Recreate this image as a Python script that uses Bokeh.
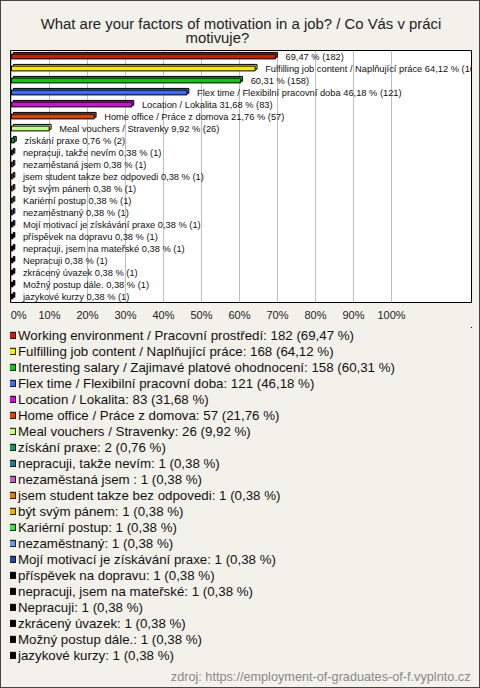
from bokeh.plotting import figure
from bokeh.layouts import column
from bokeh.models import (Range1d, FixedTicker, PrintfTickFormatter, Legend, LegendItem,
                          Label, ColumnDataSource)
from bokeh.core.properties import value
from bokeh.embed import file_html
from bokeh.resources import INLINE

FONT = "Liberation Sans"
BG = "#f3f2ea"

categories = [
    "Working environment / Pracovní prostředí",
    "Fulfilling job content / Naplňující práce",
    "Interesting salary / Zajimavé platové ohodnocení",
    "Flex time / Flexibilní pracovní doba",
    "Location / Lokalita",
    "Home office / Práce z domova",
    "Meal vouchers / Stravenky",
    "získání praxe",
    "nepracuji, takže nevím",
    "nezaměstaná jsem ",
    "jsem student takze bez odpovedi",
    "být svým pánem",
    "Kariérní postup",
    "nezaměstnaný",
    "Mojí motivací je získávání praxe",
    "příspěvek na dopravu",
    "nepracuji, jsem na mateřské",
    "Nepracuji",
    "zkrácený úvazek",
    "Možný postup dále.",
    "jazykové kurzy",
]
counts = [182, 168, 158, 121, 83, 57, 26, 2, 1, 1, 1, 1, 1, 1, 1, 1, 1, 1, 1, 1, 1]
percents = [69.47, 64.12, 60.31, 46.18, 31.68, 21.76, 9.92, 0.76,
            0.38, 0.38, 0.38, 0.38, 0.38, 0.38, 0.38, 0.38, 0.38, 0.38, 0.38, 0.38, 0.38]
colors = ["#c81e0c", "#ffe800", "#14c314", "#3c6ef0", "#c814d2", "#e0400e", "#c0ff80",
          "#159a55", "#1e7d8c", "#c060c0", "#e47814", "#e6b400", "#44e044", "#6a96e6",
          "#2346a8", "#000000", "#000000", "#000000", "#000000", "#000000", "#000000"]
# categories whose bar label shows only the numbers
number_only = [0, 2]
x_ticks = [0, 10, 20, 30, 40, 50, 60, 70, 80, 90, 100]
title_line1 = "What are your factors of motivation in a job? / Co Vás v práci"
title_line2 = "motivuje?"
source_text = "zdroj: https://employment-of-graduates-of-f.vyplnto.cz"


def fmt(v):
    return f"{v:.2f}".replace(".", ",")


n = len(categories)
ys = list(range(n))
bar_labels = []
for i, (c, k, pc) in enumerate(zip(categories, counts, percents)):
    if i in number_only:
        bar_labels.append(f"{fmt(pc)} % ({k})")
    else:
        bar_labels.append(f"{c} {fmt(pc)} % ({k})")
legend_labels = [f"{c}: {k} ({fmt(pc)} %)" for c, k, pc in zip(categories, counts, percents)]

W = 478
H1 = 326
H2 = 360

# ---------------- chart ----------------
x_range = Range1d(-0.26, 121.05)
y_range = Range1d(n - 0.5, -0.5)
p = figure(width=W, height=H1, output_backend="svg", toolbar_location=None,
           x_range=x_range, y_range=y_range,
           min_border_left=9, min_border_right=8, min_border_top=49, min_border_bottom=25)
p.background_fill_color = "#ffffff"
p.border_fill_color = BG
p.outline_line_color = "#000000"
p.outline_line_width = 1

# two-line title; the second line is padded with no-break spaces so that it sits centred
p.title.text = title_line1 + "\n" + "\u00a0" * 35 + title_line2
p.title.align = "center"
p.title.text_font = FONT
p.title.text_font_size = "14.9px"
p.title.text_font_style = "normal"
p.title.text_color = "#222222"
p.title.text_line_height = 0.85
p.title.standoff = 9

p.yaxis.visible = False
p.ygrid.visible = False
ax = p.xaxis[0]
ax.ticker = FixedTicker(ticks=x_ticks)
ax.formatter = PrintfTickFormatter(format="%d%%")
ax.major_label_overrides = {0: "\u00a0" * 3 + "0%"}
ax.axis_line_color = None
ax.major_tick_line_color = None
ax.minor_tick_line_color = None
ax.major_label_text_font = FONT
ax.major_label_text_font_size = "11px"
ax.major_label_text_color = "#222222"
ax.major_label_standoff = 0
p.xgrid.ticker = FixedTicker(ticks=x_ticks)
p.xgrid.grid_line_color = "#c0c0c0"

for i in range(n):
    src = ColumnDataSource(dict(y=[ys[i]], right=[percents[i]]))
    # depth / back face
    p.hbar(y=ys[i] - 0.14, left=0.5, right=percents[i] + 0.5, height=0.4,
           fill_color=colors[i], line_color="#000000", line_width=1)
    p.hbar(y="y", left=0, right="right", height=0.4, source=src,
           fill_color=colors[i], line_color="#000000", line_width=1)

p.text(x=percents, y=ys, text=bar_labels, x_offset=10, text_baseline="middle",
       text_font=value(FONT), text_font_size="9.3px", text_color="#111111")

# ---------------- legend ----------------
q = figure(width=W, height=H2, output_backend="svg", toolbar_location=None,
           x_axis_type=None, y_axis_type=None, x_range=Range1d(0, 1), y_range=Range1d(0, 1),
           min_border=0)
q.background_fill_color = BG
q.border_fill_color = BG
q.outline_line_color = None

items = []
for i in range(n):
    # legend swatch renderers; their single point lies outside the visible ranges
    r = q.hbar(y=[50], left=[50], right=[51], height=0.5, fill_color=colors[i],
               line_color="#000000", line_width=1)
    items.append(LegendItem(label=legend_labels[i], renderers=[r]))

legend = Legend(items=items, location=(-2, H2 - 16 * n), orientation="vertical",
                glyph_width=8, glyph_height=8, label_height=16, spacing=0,
                label_standoff=2, padding=0, margin=0,
                label_text_font=FONT, label_text_font_size="13.3px", label_text_color="#111111",
                background_fill_alpha=0, border_line_color=None)
q.add_layout(legend, "center")

src_label = Label(x=1, y=0, text=source_text, text_align="right", text_baseline="bottom",
                  x_offset=-1, y_offset=4, text_font=FONT, text_font_size="12.7px",
                  text_color="#888888")
q.add_layout(src_label)

layout = column(p, q, spacing=0, styles={"border": "1px solid #444444", "background": BG})
open("out.html", "w").write(file_html(layout, INLINE))
